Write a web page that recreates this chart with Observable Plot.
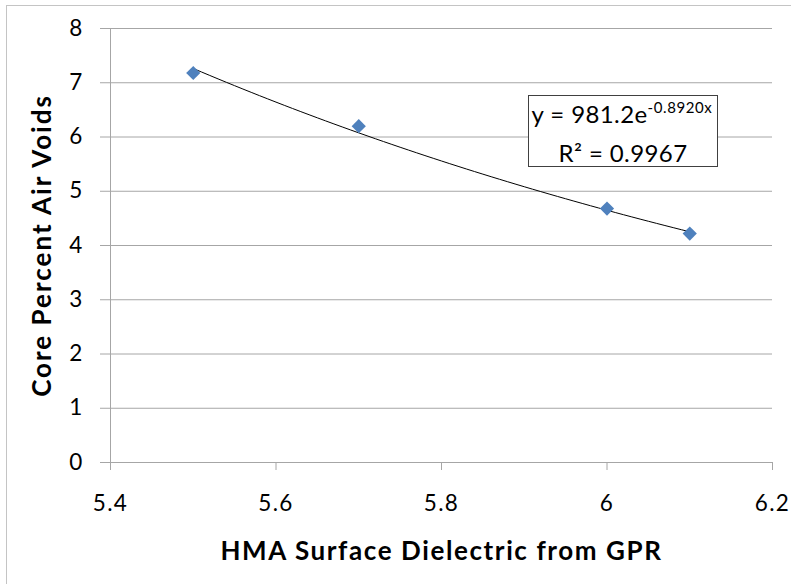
<!DOCTYPE html>
<html><head><meta charset="utf-8">
<script src="https://cdn.jsdelivr.net/npm/d3@7"></script>
<script src="https://cdn.jsdelivr.net/npm/@observablehq/plot@0.6"></script>
<style>
html,body{margin:0;padding:0;background:#fff;}
body{width:791px;height:584px;overflow:hidden;position:relative;font-family:Lato,"Open Sans",sans-serif;}
#frame{position:absolute;left:6px;top:5px;width:820px;height:620px;border:1.5px solid #c4c4c4;box-sizing:border-box;}
#chart{position:absolute;left:0;top:0;}
#eq{position:absolute;left:528px;top:95px;width:190px;height:72px;box-sizing:border-box;border:1px solid #404040;background:#fff;text-align:center;font-size:24px;line-height:35px;color:#000;white-space:nowrap;letter-spacing:0.4px;}
#eq sup{font-size:15px;vertical-align:0;position:relative;top:-10px;letter-spacing:0.6px;}
#eq .l1{padding-top:0px;margin-left:-2px;}
#chart svg g[aria-label$="tick label"] text{font-size:22.5px !important;letter-spacing:1.3px;}
#chart svg g.xtitle text{letter-spacing:1.6px;}
#chart svg g.ytitle text{letter-spacing:2.0px;}
</style>
</head><body>
<div id="frame"></div>
<div id="chart"></div>
<div id="eq"><div class="l1" id="eq1"></div><div id="eq2"></div></div>
<script>
const dielectric = [5.5, 5.7, 6.0, 6.1];
const airVoids = [7.18, 6.2, 4.68, 4.22];
const xTicks = [5.4, 5.6, 5.8, 6, 6.2];
const yTicks = [0, 1, 2, 3, 4, 5, 6, 7, 8];
const trendA = 981.2;
const trendB = -0.892;
const trendR2 = 0.9967;
const xTitle = "HMA Surface Dielectric from GPR";
const yTitle = "Core Percent Air Voids";

const points = dielectric.map((x, i) => ({x, y: airVoids[i]}));
const x0 = d3.min(dielectric), x1 = d3.max(dielectric);
const trend = d3.range(0, 61).map(i => {
  const x = x0 + (x1 - x0) * i / 60;
  return {x, y: trendA * Math.exp(trendB * x)};
});

const grey = "#a6a6a6";
const chart = Plot.plot({
  width: 791,
  height: 584,
  marginLeft: 110,
  marginTop: 28,
  marginRight: 19,
  marginBottom: 122,
  style: {fontFamily: "Lato, 'Open Sans', sans-serif", fontSize: "20px", color: "#000", background: "transparent", overflow: "visible"},
  x: {domain: [xTicks[0], xTicks[xTicks.length - 1]]},
  y: {domain: [yTicks[0], yTicks[yTicks.length - 1]]},
  marks: [
    Plot.gridY(yTicks.slice(1), {stroke: grey, strokeOpacity: 1}),
    Plot.ruleX([xTicks[0]], {stroke: grey, insetBottom: -8}),
    Plot.ruleY([yTicks[0]], {stroke: grey}),
    Plot.axisY({ticks: yTicks, tickSize: 10, tickPadding: 17, stroke: grey, label: null, fontSize: 22, tickFormat: d => `${d}`}),
    Plot.axisX({ticks: xTicks, tickSize: 8, tickPadding: 25, stroke: grey, label: null, fontSize: 22, tickFormat: d => `${d}`}),
    Plot.line(trend, {x: "x", y: "y", stroke: "#000", strokeWidth: 1}),
    Plot.dot(points, {x: "x", y: "y", symbol: "diamond2", r: 6.4, fill: "#4f81bd", stroke: "none"}),
    Plot.text([yTitle], {frameAnchor: "left", textAnchor: "middle", rotate: -90, dx: -68, fontWeight: "bold", fontSize: 26, fill: "#000", className: "ytitle"}),
    Plot.text([xTitle], {frameAnchor: "bottom", textAnchor: "middle", dy: 97, fontWeight: "bold", fontSize: 26, fill: "#000", className: "xtitle"})
  ]
});
document.getElementById("chart").appendChild(chart);
document.getElementById("eq1").innerHTML = `y = ${trendA.toFixed(1)}e<sup>${trendB.toFixed(4)}x</sup>`;
document.getElementById("eq2").textContent = `R² = ${trendR2.toFixed(4)}`;
</script>
</body></html>
